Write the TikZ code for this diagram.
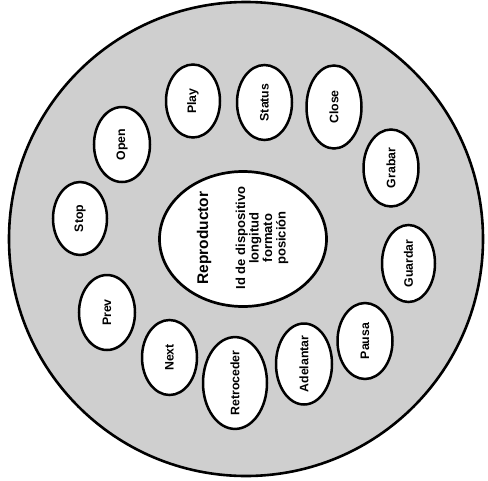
\documentclass[tikz,border=0pt]{standalone}
\usepackage{fontspec}
\setmainfont{Liberation Sans}
\usetikzlibrary{shapes.geometric}
\begin{document}
\begin{tikzpicture}[x=1pt,y=-1pt,
  ring/.style={draw, line width=2.6pt, fill=black!19},
  opnode/.style={ellipse, draw, line width=2.5pt, fill=white, inner sep=0pt, rotate=90,
    minimum width=75pt, minimum height=55pt, font=\fontsize{12.3}{14}\selectfont\bfseries},
  core/.style={ellipse, draw, line width=2.7pt, fill=white, inner sep=0pt},
  title/.style={rotate=90, font=\fontsize{15.5}{17}\selectfont\bfseries},
  attrs/.style={rotate=90, align=center, font=\fontsize{13}{13.5}\selectfont\bfseries}
]
\useasboundingbox (0,0) rectangle (488,480);
\node[circle, ring, minimum size=474pt, inner sep=0pt] (outer) at (246,239) {};
\node[core, minimum width=167pt, minimum height=135pt] (rep) at (243,239) {};
\node[title] (reptitle) at (204,238) {Reproductor};
\node[attrs] (repattrs) at (262,238) {Id de dispositivo\\longitud\\formato\\posición};

\node[opnode, minimum width=73pt, minimum height=54pt] (play) at (193,101) {Play};
\node[opnode] (status) at (264.5,102.5) {Status};
\node[opnode, minimum width=83pt] (close) at (334,107) {Close};
\node[opnode, minimum width=77pt] (grabar) at (391,168) {Grabar};
\node[opnode, minimum width=77pt, minimum height=53pt] (guardar) at (408.5,263.5) {Guardar};
\node[opnode, minimum width=76pt] (pausa) at (365,341) {Pausa};
\node[opnode, minimum width=81pt, minimum height=56pt] (adelantar) at (304,364) {Adelantar};
\node[opnode, minimum width=87pt, minimum height=64pt] (retroceder) at (235,383) {Retroceder};
\node[opnode] (next) at (169.5,357.5) {Next};
\node[opnode, minimum height=56pt] (prev) at (107,312.5) {Prev};
\node[opnode, minimum width=73pt, minimum height=54pt] (stop) at (80,218.5) {Stop};
\node[opnode, minimum height=56pt] (open) at (122,144.5) {Open};
\end{tikzpicture}
\end{document}
